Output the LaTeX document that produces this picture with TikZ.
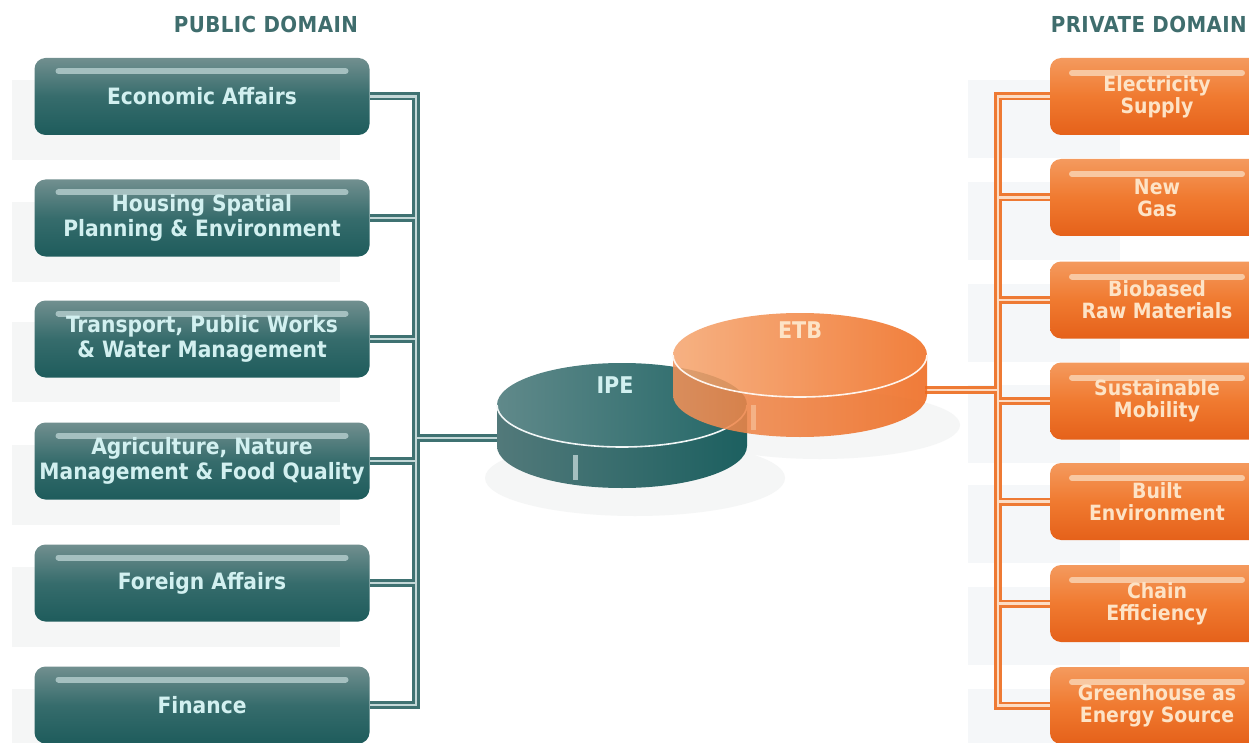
\documentclass[tikz,border=0pt]{standalone}
\usepackage{fontspec}
\setmainfont{DejaVu Sans Condensed}
\pgfdeclarelayer{bg}
\pgfsetlayers{bg,main}
\definecolor{tealD}{HTML}{1E5C5C}
\definecolor{tealM}{HTML}{366C6C}
\definecolor{tealT}{HTML}{718F8F}
\definecolor{tealTxt}{HTML}{D2F0F0}
\definecolor{tealHi}{HTML}{A5C0C0}
\definecolor{tealC}{HTML}{3F7272}
\definecolor{tealCi}{HTML}{C4D8D8}
\definecolor{orD}{HTML}{E5611A}
\definecolor{orM}{HTML}{F07A30}
\definecolor{orT}{HTML}{F49A5E}
\definecolor{orTxt}{HTML}{FDE3C6}
\definecolor{orHi}{HTML}{F8C8A2}
\definecolor{orC}{HTML}{EE7A34}
\definecolor{orCi}{HTML}{FCDCC4}
\definecolor{hdrC}{HTML}{3F6D6D}
\definecolor{shd}{HTML}{F5F6F6}
\definecolor{shdB}{HTML}{F5F7F9}
\definecolor{ipeTL}{HTML}{60898A}
\definecolor{ipeTR}{HTML}{236767}
\definecolor{ipeSL}{HTML}{52797A}
\definecolor{ipeSR}{HTML}{1C6060}
\definecolor{etbTL}{HTML}{F5A772}
\definecolor{etbTR}{HTML}{F06E22}
\definecolor{etbSL}{HTML}{F0915A}
\definecolor{etbSR}{HTML}{EE6A1E}
\tikzset{
  lbox/.style={minimum width=335pt, minimum height=77pt, rounded corners=11pt,
    top color=tealT, bottom color=tealD, middle color=tealM, text=tealTxt,
    font=\bfseries\fontsize{22.5}{25}\selectfont, align=center, inner sep=0pt,
    path picture={\draw[tealHi, line width=6pt, line cap=round]
      ([xshift=24pt,yshift=-13pt]path picture bounding box.north west) --
      ([xshift=-24pt,yshift=-13pt]path picture bounding box.north east);}},
  rbox/.style={minimum width=214pt, minimum height=77pt, rounded corners=11pt,
    top color=orT, bottom color=orD, middle color=orM, text=orTxt,
    font=\bfseries\fontsize{21}{22}\selectfont, align=center, inner sep=0pt,
    path picture={\draw[orHi, line width=6pt, line cap=round]
      ([xshift=22pt,yshift=-15pt]path picture bounding box.north west) --
      ([xshift=-22pt,yshift=-15pt]path picture bounding box.north east);}},
  hdr/.style={text=hdrC, font=\bfseries\fontsize{22}{24}\selectfont\addfontfeatures{LetterSpace=2}, inner sep=0pt},
  cyl/.style={font=\bfseries\fontsize{23}{25}\selectfont, inner sep=0pt},
  lconO/.style={draw=tealC, line width=8pt},
  lconI/.style={draw=tealCi, line width=2.6pt},
  rconO/.style={draw=orC, line width=8pt},
  rconI/.style={draw=orCi, line width=2.6pt}
}
\newcommand\leftconns[1]{%
  \draw[#1] (l1.east) -- (l1.east -| lbus) -- (l6.east -| lbus) -- (l6.east);
  \draw[#1] (l2.east) -- (l2.east -| lbus);
  \draw[#1] (l3.east) -- (l3.east -| lbus);
  \draw[#1] (l4.east) -- (l4.east -| lbus);
  \draw[#1] (l5.east) -- (l5.east -| lbus);
  \draw[#1] (ipeW) -- (ipeW -| lbus);
}
\newcommand\rightconns[1]{%
  \draw[#1] (r1.west) -- (r1.west -| rbus) -- (r7.west -| rbus) -- (r7.west);
  \draw[#1] (r2.west) -- (r2.west -| rbus);
  \draw[#1] (r3.west) -- (r3.west -| rbus);
  \draw[#1] (r4.west) -- (r4.west -| rbus);
  \draw[#1] (r5.west) -- (r5.west -| rbus);
  \draw[#1] (r6.west) -- (r6.west -| rbus);
  \draw[#1] (etbE) -- (etbE -| rbus);
}
\begin{document}
\begin{tikzpicture}[x=1pt,y=-1pt]
\useasboundingbox (0,0) rectangle (1249,743);
% headers
\node[hdr] (pub) at (266,24) {PUBLIC DOMAIN};
\node[hdr, anchor=east] (priv) at (1247,24) {PRIVATE DOMAIN};
% left boxes
\node[lbox] (l1) at (202,96.5) {Economic Affairs};
\node[lbox] (l2) at (202,218) {Housing Spatial\\Planning \& Environment};
\node[lbox] (l3) at (202,339) {Transport, Public Works\\\& Water Management};
\node[lbox] (l4) at (202,461) {Agriculture, Nature\\Management \& Food Quality};
\node[lbox] (l5) at (202,583) {Foreign Affairs};
\node[lbox] (l6) at (202,705) {Finance};
% right boxes
\node[rbox] (r1) at (1157,96.5) {Electricity\\Supply};
\node[rbox] (r2) at (1157,197.5) {New\\Gas};
\node[rbox] (r3) at (1157,300) {Biobased\\Raw Materials};
\node[rbox] (r4) at (1157,401) {Sustainable\\Mobility};
\node[rbox] (r5) at (1157,501.5) {Built\\Environment};
\node[rbox] (r6) at (1157,603.5) {Chain\\Efficiency};
\node[rbox] (r7) at (1157,705.5) {Greenhouse as\\Energy Source};
% bus coordinates
\coordinate (lbus) at (416,0);
\coordinate (rbus) at (998,0);
\coordinate (ipeW) at (499,438);
\coordinate (etbE) at (925,390);
% cylinder shadows
\fill[shd] (635,478) ellipse[x radius=150, y radius=38];
\fill[shd] (820,425) ellipse[x radius=140, y radius=34];
% IPE cylinder
\shade[left color=ipeSL, right color=ipeSR]
  (497,405) -- (497,446) arc[start angle=180, end angle=0, x radius=125, y radius=42]
  -- (747,405) arc[start angle=0, end angle=180, x radius=125, y radius=42] -- cycle;
\shade[left color=ipeTL, right color=ipeTR] (622,405) ellipse[x radius=125, y radius=42];
\draw[white!85!tealHi, line width=1.6pt] (497,405) arc[start angle=180, end angle=0, x radius=125, y radius=42];
\draw[tealHi, line width=5pt] (575,455) -- (575,480);
\node[cyl, text=tealTxt] (ipe) at (615,385) {IPE};
% ETB cylinder (translucent)
\begin{scope}[fill opacity=0.88]
\shade[left color=etbSL, right color=etbSR]
  (673,355) -- (673,395) arc[start angle=180, end angle=0, x radius=127, y radius=42]
  -- (927,355) arc[start angle=0, end angle=180, x radius=127, y radius=42] -- cycle;
\shade[left color=etbTL, right color=etbTR] (800,355) ellipse[x radius=127, y radius=42];
\end{scope}
\draw[white!80!orHi, line width=1.6pt] (673,355) arc[start angle=180, end angle=0, x radius=127, y radius=42];
\draw[orHi, line width=5pt, opacity=0.6] (753,405) -- (753,430);
\node[cyl, text=orTxt] (etb) at (800,330) {ETB};
% background layer: shadows and connectors
\begin{pgfonlayer}{bg}
\fill[white] (0,0) rectangle (1249,743);
\foreach \y in {58,180,300,423,545,667} {
  \fill[shd] (12,\y+22) rectangle (340,\y+102);
}
\foreach \y in {58,160,262,363,463,565,667} {
  \fill[shdB] (968,\y+22) rectangle (1120,\y+100);
}
\leftconns{lconO}
\leftconns{lconI}
\rightconns{rconO}
\rightconns{rconI}
\end{pgfonlayer}
\end{tikzpicture}
\end{document}
